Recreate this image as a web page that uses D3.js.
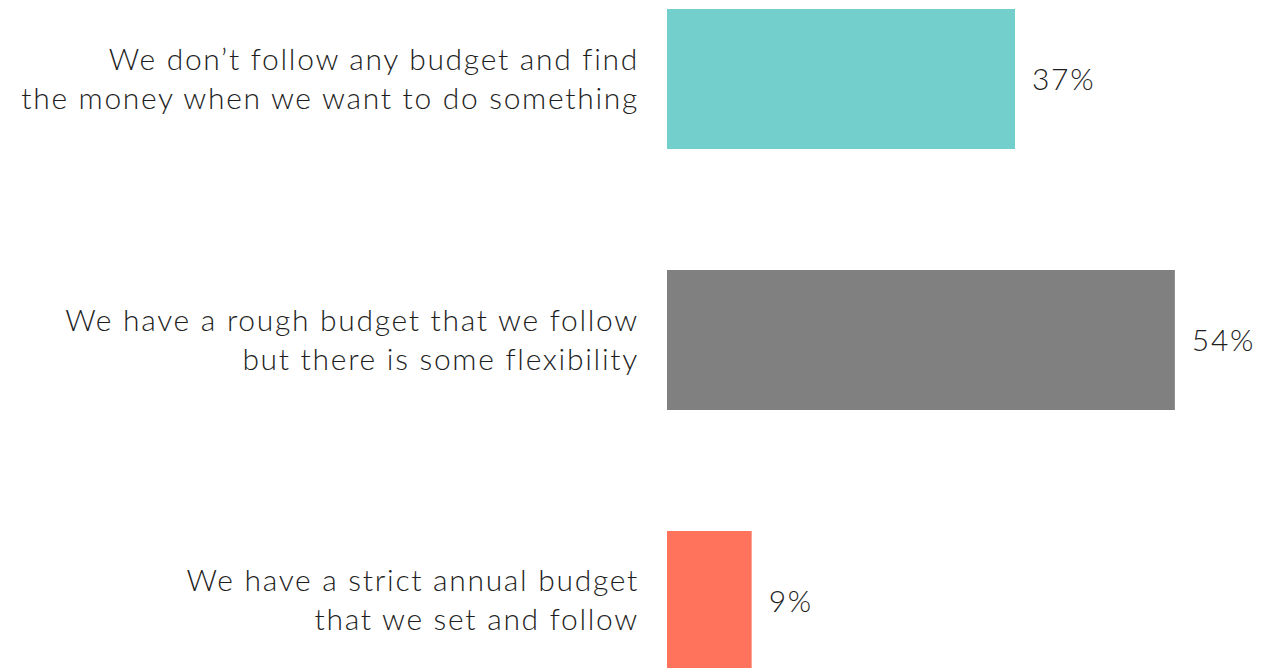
<!DOCTYPE html>
<html>
<head>
<meta charset="utf-8">
<script src="https://cdn.jsdelivr.net/npm/d3@7"></script>
<style>
  html, body { margin: 0; padding: 0; background: #fff; }
  svg { display: block; }
  text { font-family: Lato, "Open Sans", sans-serif; font-weight: 300; fill: #1e1e1e; letter-spacing: 1.7px; }
</style>
</head>
<body>
<svg id="chart" width="1264" height="668"></svg>
<script>
// Survey answers about household budgeting
const categories = [
  ["We don\u2019t follow any budget and find", "the money when we want to do something"],
  ["We have a rough budget that we follow", "but there is some flexibility"],
  ["We have a strict annual budget", "that we set and follow"]
];
const values = [37, 54, 9];
const colors = ["#72CFCB", "#808080", "#FF725C"];

const svg = d3.select("#chart");

const x = d3.scaleLinear().domain([0, 100]).range([667, 667 + 940.5]);
const y = d3.scaleBand()
  .domain(d3.range(values.length))
  .range([9, 671])
  .paddingInner(0.4636)
  .paddingOuter(0);

const rows = svg.append("g")
  .selectAll("g")
  .data(values)
  .join("g");

rows.append("rect")
  .attr("x", x(0))
  .attr("y", (d, i) => y(i))
  .attr("width", d => x(d) - x(0))
  .attr("height", y.bandwidth())
  .attr("fill", (d, i) => colors[i]);

rows.append("text")
  .attr("x", d => x(d) + 17)
  .attr("y", (d, i) => y(i) + y.bandwidth() / 2 + 11)
  .attr("font-size", 30)
  .text(d => d + "%");

// Category labels, right-aligned beside the bars, two lines each
const lineGap = 39;
const labelX = 639;
rows.append("text")
  .attr("text-anchor", "end")
  .attr("font-size", 30)
  .attr("x", labelX)
  .each(function (d, i) {
    const lines = categories[i];
    const cy = y(i) + y.bandwidth() / 2 - 1;
    const first = cy + 11 - (lines.length - 1) * lineGap / 2;
    d3.select(this).selectAll("tspan")
      .data(lines)
      .join("tspan")
      .attr("x", labelX)
      .attr("y", (t, k) => first + k * lineGap)
      .text(t => t);
  });
</script>
</body>
</html>
